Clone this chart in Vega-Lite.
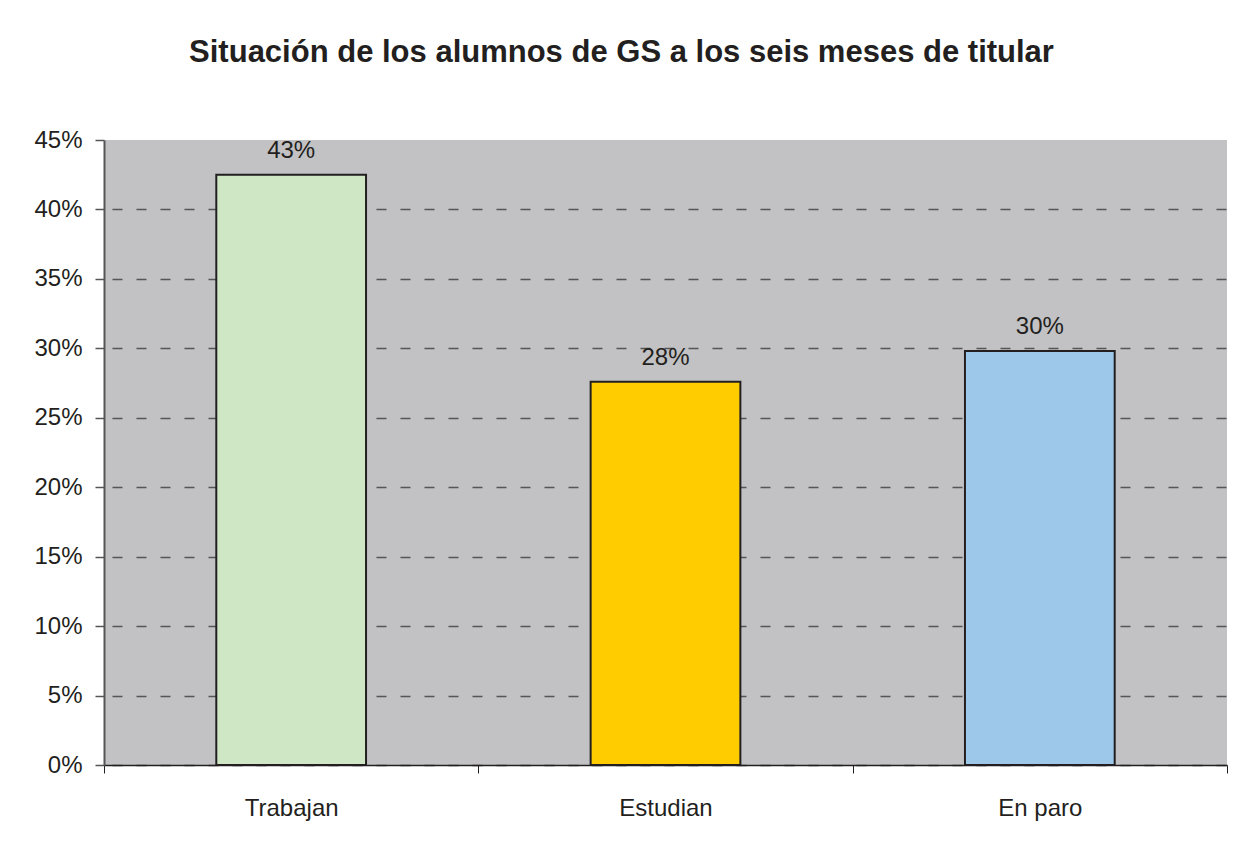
{
  "$schema": "https://vega.github.io/schema/vega-lite/v6.json",
  "autosize": "none",
  "width": 1123,
  "height": 625,
  "padding": {"left": 104, "top": 140, "right": 8, "bottom": 77},
  "background": "white",
  "title": {
    "text": "Situación de los alumnos de GS a los seis meses de titular",
    "font": "Liberation Sans",
    "fontSize": 31,
    "fontWeight": "bold",
    "color": "#231f20",
    "anchor": "middle",
    "dx": -44,
    "baseline": "alphabetic",
    "offset": 35
  },
  "data": {
    "values": [
      {"situacion": "Trabajan", "valor": 0.425},
      {"situacion": "Estudian", "valor": 0.276},
      {"situacion": "En paro", "valor": 0.298}
    ]
  },
  "encoding": {
    "x": {
      "field": "situacion",
      "type": "nominal",
      "sort": null,
      "scale": {"paddingInner": 0, "paddingOuter": 0},
      "axis": {
        "title": null,
        "labelAngle": 0,
        "labelFont": "Liberation Sans",
        "labelFontSize": 24,
        "labelColor": "#231f20",
        "labelBaseline": "alphabetic",
        "labelPadding": 42,
        "tickBand": "extent",
        "tickSize": 8,
        "tickColor": "#231f20",
        "domainColor": "#231f20",
        "domainWidth": 1.5,
        "grid": false
      }
    },
    "y": {
      "field": "valor",
      "type": "quantitative",
      "scale": {"domain": [0, 0.45], "nice": false},
      "axis": {
        "title": null,
        "format": ".0%",
        "values": [0, 0.05, 0.1, 0.15, 0.2, 0.25, 0.3, 0.35, 0.4, 0.45],
        "labelFont": "Liberation Sans",
        "labelFontSize": 24,
        "labelColor": "#231f20",
        "labelPadding": 13,
        "tickSize": 9,
        "tickColor": "#555555",
        "tickWidth": 1.5,
        "domainColor": "#555555",
        "domainWidth": 2,
        "grid": true,
        "gridColor": "#555555",
        "gridWidth": 1.3,
        "gridDash": [10, 14],
        "gridDashOffset": -8,
        "gridOpacity": {"condition": {"test": "datum.value >= 0.449", "value": 0}, "value": 1}
      }
    }
  },
  "layer": [
    {
      "mark": {"type": "bar", "stroke": "#231f20", "strokeWidth": 2, "width": {"band": 0.4}},
      "encoding": {
        "color": {
          "field": "situacion",
          "type": "nominal",
          "scale": {
            "domain": ["Trabajan", "Estudian", "En paro"],
            "range": ["#cfe7c5", "#ffcc00", "#9ec8ea"]
          },
          "legend": null
        }
      }
    },
    {
      "mark": {
        "type": "text",
        "font": "Liberation Sans",
        "fontSize": 24,
        "color": "#231f20",
        "baseline": "alphabetic",
        "dy": -17
      },
      "encoding": {
        "text": {"field": "valor", "type": "quantitative", "format": ".0%"}
      }
    }
  ],
  "config": {
    "view": {"fill": "#c2c2c4", "stroke": null}
  }
}
